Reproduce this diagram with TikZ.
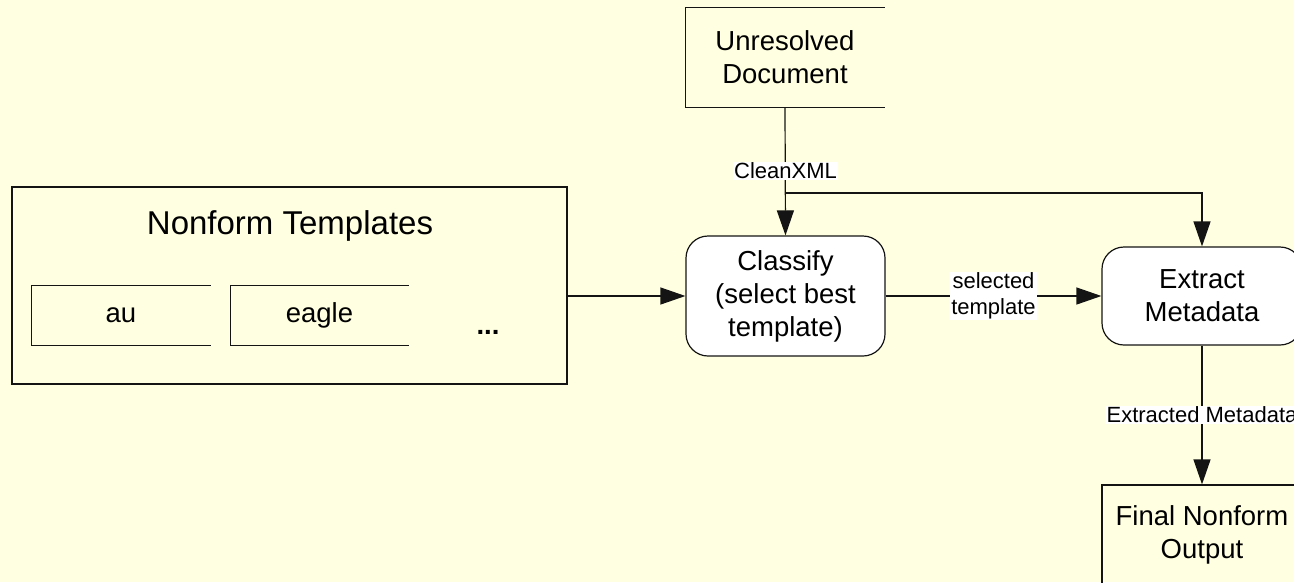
\documentclass[tikz,border=0pt]{standalone}
\usepackage{fontspec}
\setmainfont{Liberation Sans}
\usetikzlibrary{arrows.meta}
\definecolor{paper}{RGB}{255,255,225}
\definecolor{ink}{RGB}{20,20,20}
\begin{document}
\begin{tikzpicture}[x=1pt,y=-1pt,line width=1.2pt,draw=ink,
  txt/.style={font=\fontsize{27.5}{33}\selectfont,align=center,inner sep=0pt,text=black},
  title/.style={font=\fontsize{33}{38}\selectfont,inner sep=0pt,text=black},
  lbl/.style={font=\fontsize{22}{26}\selectfont,align=center,fill=white,inner sep=1pt,text=black},
  frame/.style={txt,draw=ink},
  open/.style={txt},
  rbox/.style={txt,draw=ink,fill=white,rounded corners=22pt},
  arr/.style={draw=ink,-{Triangle[length=25pt,width=17pt]}}]
\useasboundingbox (0,0) rectangle (1294,582);
\clip (0,0) rectangle (1294,582);
\fill[paper] (0,0) rectangle (1294,582);

% source document (box drawn without its right side)
\node[open,minimum width=198pt,minimum height=99pt] (unres) at (785,57.5) {Unresolved\\Document};
\draw (unres.north east) -- (unres.north west) -- (unres.south west) -- (unres.south east);

% template collection
\node[frame,minimum width=555pt,minimum height=197pt] (tmpl) at (289.5,285.5) {};
\node[title] (tmpltitle) at (290,226) {Nonform Templates};
\node[open,minimum width=178pt,minimum height=59pt] (au) at (121,315.5) {au};
\draw (au.north east) -- (au.north west) -- (au.south west) -- (au.south east);
\node[open,minimum width=177pt,minimum height=59pt] (eagle) at (319.5,315.5) {eagle};
\draw (eagle.north east) -- (eagle.north west) -- (eagle.south west) -- (eagle.south east);
\node[txt,anchor=base,font=\fontsize{27.5}{33}\selectfont\bfseries] (more) at (488,334) {...};

% processing steps
\node[rbox,minimum width=199pt,minimum height=120pt] (classify) at (785.5,296) {Classify\\(select best\\template)};
\node[rbox,minimum width=200pt,minimum height=98pt] (extract) at (1202,296) {Extract\\Metadata};
\node[frame,minimum width=200pt,minimum height=100pt] (final) at (1202,535) {Final Nonform\\Output};

% connectors
\coordinate (split) at (unres.south |- 0,193);
\draw[arr] (unres.south) -- (classify.north);
\node[lbl] (cleanlbl) at (785.5,171) {CleanXML};
\draw[arr] (split) -| (extract.north);
\draw[arr] (tmpl.east |- classify.west) -- (classify.west);
\draw[arr] (classify.east) -- (extract.west)
  node[lbl,midway] (sellbl) {selected\\template};
\draw[arr] (extract.south) -- (final.north)
  node[lbl,pos=0.5] (extlbl) {Extracted Metadata};
\end{tikzpicture}
\end{document}
